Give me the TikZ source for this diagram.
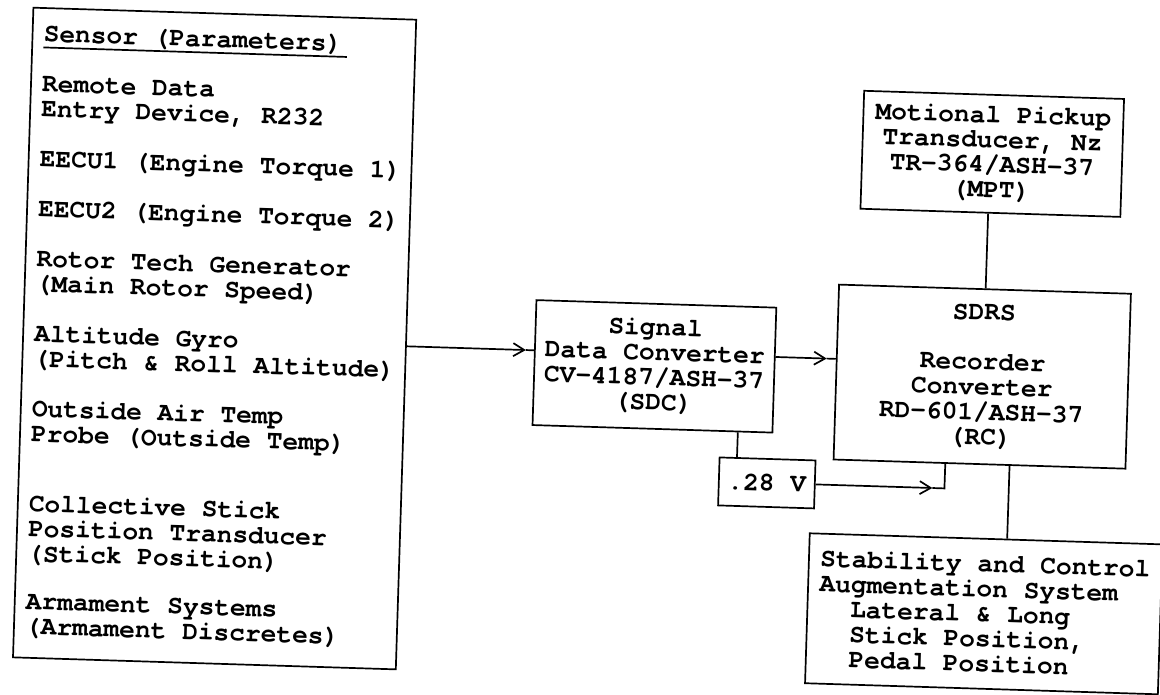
\documentclass[tikz,border=0pt]{standalone}
\usepackage{fontspec}
\newfontfamily\cour{TeX Gyre Cursor}
\newcommand\thickul[1]{{\setbox0\hbox{#1}\rlap{\rule[-6.5pt]{\dimexpr\wd0+5pt\relax}{1.7pt}}\box0}}
\usetikzlibrary{arrows.meta,calc}
\begin{document}
\begin{tikzpicture}[x=1pt,y=-1pt,
  txt/.style={font=\cour\bfseries\fontsize{26.2}{25}\selectfont, inner sep=0pt},
  box/.style={txt, draw, line width=1.7pt},
  link/.style={line width=1.7pt},
  chev/.style={link, -{Straight Barb[length=11pt,width=13pt]}}]
\useasboundingbox (0,0) rectangle (1160,695);
\begin{scope}[rotate around={-1.8:(580,347)}, transform shape]
% boxes
\node[box, minimum width=383pt, minimum height=650pt] (sens) at (214.5,350) {};
\node[txt, align=left, anchor=north west] (senstxt) at (34,42) {%
\thickul{Sensor (Parameters)}\\[25pt]
Remote Data\\Entry Device, R232\\[25pt]
EECU1 (Engine Torque 1)\\[25pt]
EECU2 (Engine Torque 2)\\[25pt]
Rotor Tech Generator\\(Main Rotor Speed)\\[25pt]
Altitude Gyro\\(Pitch \& Roll Altitude)\\[25pt]
Outside Air Temp\\Probe (Outside Temp)\\[45pt]
Collective Stick\\Position Transducer\\(Stick Position)\\[23pt]
Armament Systems\\(Armament Discretes)};
\node[box, align=center, minimum width=240pt, minimum height=125pt] (sdc) at (655,364)
  {Signal\\Data Converter\\CV-4187/ASH-37\\(SDC)};
\node[box, align=center, minimum width=292pt, minimum height=175pt] (rc) at (983,364)
  {SDRS\\[25pt]Recorder\\Converter\\RD-601/ASH-37\\(RC)};
\node[box, align=center, minimum width=260pt, minimum height=118pt] (mpt) at (986,141)
  {Motional Pickup\\Transducer, Nz\\TR-364/ASH-37\\(MPT)};
\node[box, minimum width=96pt, minimum height=48pt] (v28) at (771,477) {.28 V};
\node[box, align=left, minimum width=353pt, minimum height=150pt] (scas) at (992,601)
  {Stability and Control\\Augmentation System\\\phantom{XX}Lateral \& Long\\\phantom{XX}Stick Position,\\\phantom{XX}Pedal Position};
% connectors
\coordinate (B1) at ($(sdc.north west)!0.404!(sdc.south west)$);
\coordinate (A1) at ($(sens.north east)!(B1)!(sens.south east)$);
\coordinate (C1) at ($(B1)!8pt!(A1)$);
\draw[chev] (A1) -- (C1);
\draw[link] (C1) -- (B1);
\coordinate (B2) at ($(rc.north west)!0.426!(rc.south west)$);
\coordinate (A2) at ($(sdc.north east)!(B2)!(sdc.south east)$);
\coordinate (C2) at ($(B2)!9pt!(A2)$);
\draw[chev] (A2) -- (C2);
\draw[link] (C2) -- (B2);
\coordinate (A3) at ($(mpt.south west)!0.492!(mpt.south east)$);
\coordinate (B3) at ($(rc.north west)!(A3)!(rc.north east)$);
\draw[link] (A3) -- (B3);
\coordinate (A4) at ($(sdc.south west)!0.854!(sdc.south east)$);
\coordinate (B4) at ($(v28.north west)!(A4)!(v28.north east)$);
\draw[link] (A4) -- (B4);
\coordinate (T5) at ($(rc.south west)!0.384!(rc.south east)$);
\coordinate (T5n) at ($(rc.north west)!0.384!(rc.north east)$);
\coordinate (K5) at ($(T5)!(v28.east)!(T5n)$);
\coordinate (C5) at ($(K5)!12pt!(v28.east)$);
\draw[chev] (v28.east) -- (C5);
\draw[link] (C5) -- (K5) -- (T5);
\coordinate (A6) at ($(rc.south west)!0.603!(rc.south east)$);
\coordinate (B6) at ($(scas.north west)!(A6)!(scas.north east)$);
\draw[link] (A6) -- (B6);
\end{scope}
\end{tikzpicture}
\end{document}
